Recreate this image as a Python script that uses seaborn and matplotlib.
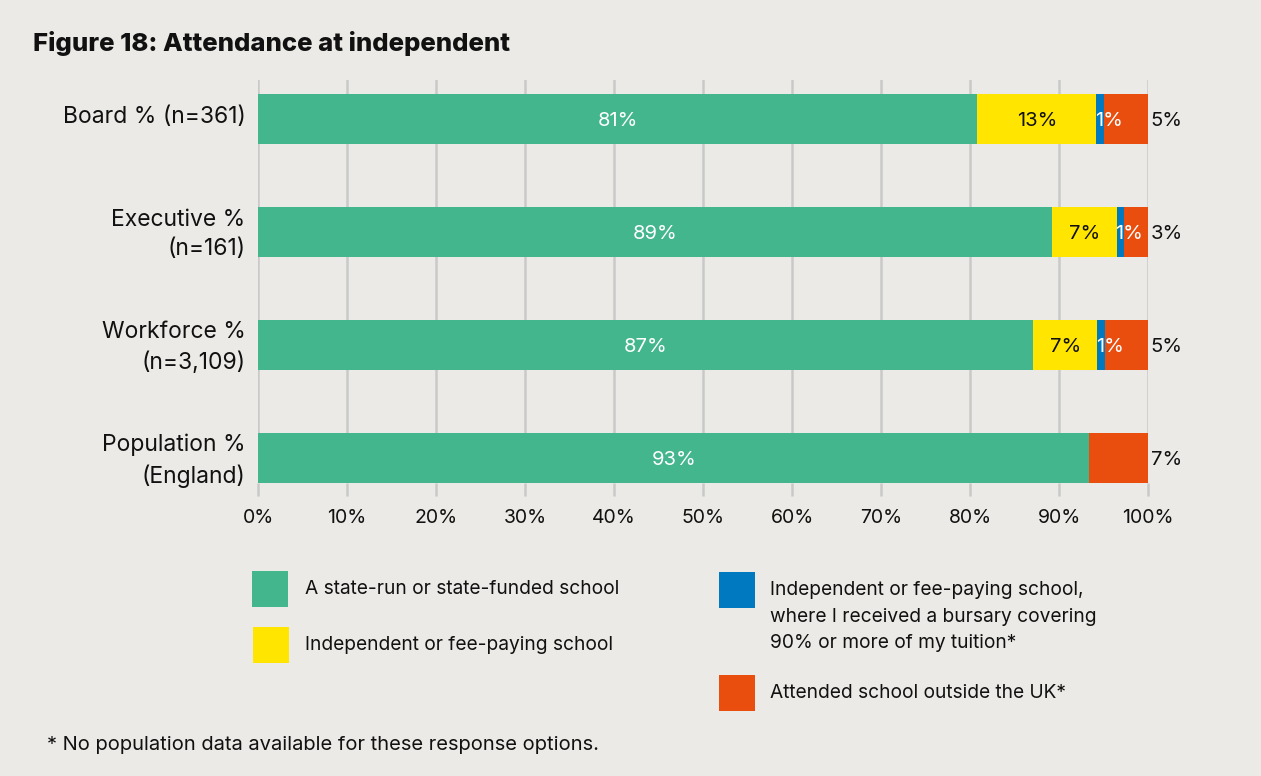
import matplotlib
matplotlib.use("Agg")
import matplotlib.pyplot as plt
from matplotlib.patches import Rectangle
from matplotlib.transforms import ScaledTranslation
import seaborn as sns
import pandas as pd
import numpy as np

# ---------------- data ----------------
categories = ["Board % (n=361)", "Executive %\n(n=161)", "Workforce %\n(n=3,109)", "Population %\n(England)"]
state_funded = [80.8, 89.2, 87.1, 93.4]
independent = [13.4, 7.3, 7.2, 0.0]
bursary = [0.9, 0.8, 0.9, 0.0]
outside_uk = [4.9, 2.7, 4.8, 6.6]
state_labels = ["81%", "89%", "87%", "93%"]
indep_labels = ["13%", "7%", "7%", ""]
bursary_labels = ["1%", "1%", "1%", ""]
outside_labels = ["5%", "3%", "5%", "7%"]
series_names = [
    "A state-run or state-funded school",
    "Independent or fee-paying school",
    "Independent or fee-paying school,\nwhere I received a bursary covering\n90% or more of my tuition*",
    "Attended school outside the UK*",
]
x_ticks = [0, 10, 20, 30, 40, 50, 60, 70, 80, 90, 100]
title = "Figure 18: Attendance at independent"
footnote = "* No population data available for these response options."

colors = ["#43B68E", "#FFE500", "#0079C1", "#E94E0F"]
bg = "#ECEAE6"

sns.set_theme(style="white")
plt.rcParams["font.family"] = ["Inter", "DejaVu Sans"]

df = pd.DataFrame({
    "category": categories,
    "s1": state_funded,
    "s2": independent,
    "s3": bursary,
    "s4": outside_uk,
})
df["c1"] = df["s1"]
df["c2"] = df["c1"] + df["s2"]
df["c3"] = df["c2"] + df["s3"]
df["c4"] = df["c3"] + df["s4"]

fig = plt.figure(figsize=(12.61, 7.76), dpi=100, facecolor=bg)
ax = fig.add_axes([258 / 1261, 1 - 483 / 776, 890 / 1261, (483 - 80) / 776])
ax.set_facecolor(bg)

# gridlines behind bars
for t in x_ticks:
    ax.axvline(t, color="#C9C9C9", lw=1.8, zorder=0)

# stacked by overlaying cumulative sums (largest first)
for col, c in zip(["c4", "c3", "c2", "c1"], colors[::-1]):
    sns.barplot(data=df, x=col, y="category", orient="h", color=c,
                width=50 / 113, ax=ax, zorder=2, saturation=1, linewidth=0)

ax.set_xlim(0, 100)
ax.set_ylim(3 + 25 / 113, -39 / 113)
ax.set_xlabel("")
ax.set_ylabel("")
for s in ax.spines.values():
    s.set_visible(False)

ax.set_xticks(x_ticks)
ax.set_xticklabels([f"{t}%" for t in x_ticks], fontsize=14, color="#111111")
ax.tick_params(axis="x", length=9, width=1.8, color="#C9C9C9", pad=10, bottom=True)
ax.tick_params(axis="y", length=0, pad=9)
ax.set_yticks(range(len(categories)))
ax.set_yticklabels(categories, fontsize=16.5, color="#111111", linespacing=1.45)
up = ScaledTranslation(0, 4 / 100, fig.dpi_scale_trans)
for lab in ax.get_yticklabels():
    lab.set_horizontalalignment("right")
    lab.set_multialignment("right")
    lab.set_transform(lab.get_transform() + up)

# bar labels
fs = 14.5
for i in range(len(categories)):
    c1, c2, c3, c4 = df.loc[i, ["c1", "c2", "c3", "c4"]]
    ax.text(c1 / 2, i, state_labels[i], ha="center", va="center_baseline", color="white", fontsize=fs, zorder=5)
    if indep_labels[i]:
        ax.text((c1 + c2) / 2, i, indep_labels[i], ha="center", va="center_baseline", color="#111111", fontsize=fs, zorder=5)
    if bursary_labels[i]:
        ax.text(c2 - 0.15, i, bursary_labels[i], ha="left", va="center_baseline", color="white", fontsize=fs, zorder=5)
    ax.text(c4 + 0.3, i, outside_labels[i], ha="left", va="center_baseline", color="#111111", fontsize=fs, zorder=5)

# title & footnote
fig.text(33 / 1261, 1 - 44 / 776, title, fontsize=18.5, fontweight="heavy", color="#111111", va="center", ha="left")
fig.text(47 / 1261, 1 - 745 / 776, footnote, fontsize=14.5, color="#111111", va="center", ha="left")

# legend (manual layout)
legend_pos = [(252, 571, 305, 589), (253, 627, 305, 645), (719, 572, 770, 581), (719, 675, 770, 693)]
for (bx, by, tx, ty), name, c in zip(legend_pos, series_names, colors):
    fig.patches.append(Rectangle((bx / 1261, 1 - (by + 36) / 776), 36 / 1261, 36 / 776,
                                 transform=fig.transFigure, facecolor=c, edgecolor="none"))
    fig.text(tx / 1261, 1 - ty / 776, name, fontsize=13.8, color="#111111", va="top" if "\n" in name else "center",
             ha="left", linespacing=1.62)

fig.savefig("out.png", dpi=100, facecolor=bg)
